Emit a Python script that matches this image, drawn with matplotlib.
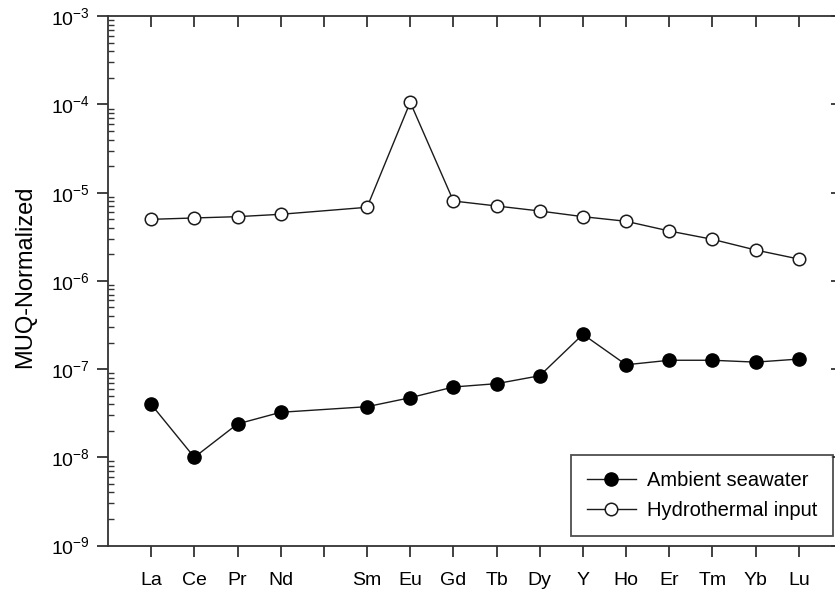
import matplotlib
matplotlib.use('Agg')
import matplotlib.pyplot as plt
from matplotlib.ticker import LogLocator, NullFormatter

plt.rcParams['font.family'] = ['Liberation Sans', 'DejaVu Sans']
plt.rcParams['mathtext.default'] = 'regular'

# REE + Y order (Pm slot left empty)
elements = ['La', 'Ce', 'Pr', 'Nd', '', 'Sm', 'Eu', 'Gd', 'Tb', 'Dy', 'Y', 'Ho', 'Er', 'Tm', 'Yb', 'Lu']
element_pos = [0, 1, 2, 3, 5, 6, 7, 8, 9, 10, 11, 12, 13, 14, 15]

# MUQ-normalized values
ambient = [3.99e-8, 1.0e-8, 2.39e-8, 3.24e-8, 3.75e-8, 4.74e-8, 6.27e-8, 6.84e-8,
           8.41e-8, 2.48e-7, 1.12e-7, 1.26e-7, 1.26e-7, 1.2e-7, 1.3e-7]
hydrothermal = [4.99e-6, 5.17e-6, 5.35e-6, 5.69e-6, 6.83e-6, 1.06e-4, 8.05e-6, 7.07e-6,
                6.2e-6, 5.35e-6, 4.74e-6, 3.68e-6, 2.96e-6, 2.24e-6, 1.77e-6]

fig = plt.figure(figsize=(8.35, 5.92), dpi=100)
ax = fig.add_axes([0.1293, 0.0785, 0.8791, 0.894])

ax.plot(element_pos, ambient, '-o', color='#1a1a1a', lw=1.0, ms=9.5,
        mfc='black', mec='black', label='Ambient seawater')
ax.plot(element_pos, hydrothermal, '-o', color='#1a1a1a', lw=1.0, ms=9,
        mfc='white', mec='#1a1a1a', mew=1.1, label='Hydrothermal input')

ax.set_yscale('log')
ax.set_ylim(1e-9, 1e-3)
ax.set_xlim(-1, 16)

ax.set_xticks(range(16))
ax.set_xticklabels(elements, fontsize=14)

ax.yaxis.set_minor_locator(LogLocator(base=10, subs=range(2, 10), numticks=20))
ax.yaxis.set_minor_formatter(NullFormatter())
ax.set_yticks([10.0 ** e for e in range(-9, -2)])
ax.set_yticklabels([r'$10^{%d}$' % e for e in range(-9, -2)], fontsize=14)

for s in ax.spines.values():
    s.set_linewidth(1.3)
    s.set_color('#333333')

ax.tick_params(axis='x', which='major', direction='out', length=8, width=1.3,
               color='#333333', pad=11)
ax.tick_params(axis='y', which='major', direction='out', length=8, width=1.3,
               color='#333333', pad=5)
ax.tick_params(axis='y', which='minor', direction='in', length=4.5, width=1.0,
               color='#333333')
ax.xaxis.set_ticks_position('both')
for t in ax.xaxis.get_major_ticks():
    t.tick2line.set_marker(3)  # top ticks pointing into the axes
ax.tick_params(axis='y', which='both', right=True)
for t in ax.yaxis.get_major_ticks():
    t.tick2line.set_marker(0)

ax.set_ylabel('MUQ-Normalized', fontsize=17)
ax.yaxis.set_label_coords(-0.098, 0.507)

leg = ax.legend(loc='lower left', bbox_to_anchor=(0.631, 0.018), fontsize=14.5,
                frameon=True, fancybox=False, handlelength=2.4, handletextpad=0.55,
                labelspacing=0.55, borderpad=0.8, borderaxespad=0)
leg.get_frame().set_edgecolor('#222222')
leg.get_frame().set_linewidth(1.3)

fig.savefig('out.png', dpi=100)
